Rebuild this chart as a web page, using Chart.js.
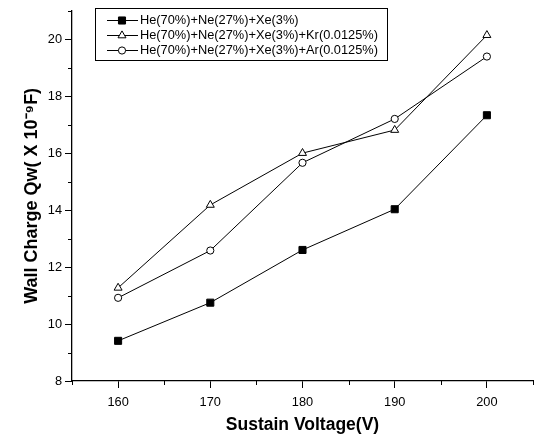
<!DOCTYPE html>
<html>
<head>
<meta charset="utf-8">
<script src="https://cdn.jsdelivr.net/npm/chart.js"></script>
<style>
html,body{margin:0;padding:0;background:#fff;}
#wrap{width:539px;height:439px;}
</style>
</head>
<body>
<div id="wrap"><canvas id="c" width="539" height="439"></canvas></div>
<script>
// ---- data ----
const voltages = [160, 170, 180, 190, 200];
const seriesXe = [9.41, 10.75, 12.6, 14.03, 17.33];
const seriesKr = [11.27, 14.18, 16.0, 16.81, 20.14];
const seriesAr = [10.92, 12.58, 15.66, 17.2, 19.39];
const labelXe = 'He(70%)+Ne(27%)+Xe(3%)';
const labelKr = 'He(70%)+Ne(27%)+Xe(3%)+Kr(0.0125%)';
const labelAr = 'He(70%)+Ne(27%)+Xe(3%)+Ar(0.0125%)';
const xTicks = [160, 170, 180, 190, 200];
const xMinorTicks = [155, 165, 175, 185, 195, 205];
const yTicks = [8, 10, 12, 14, 16, 18, 20];
const yMinorTicks = [9, 11, 13, 15, 17, 19, 21];
const xTitle = 'Sustain Voltage(V)';
const yTitle = 'Wall Charge Qw( X 10\u207B\u2079F)';

const FONT = '"Liberation Sans", Arial, Helvetica, sans-serif';
Chart.defaults.font.family = FONT;
Chart.defaults.color = '#000';

function pts(vals){ return voltages.map((v,i)=>({x:v, y:vals[i]})); }

const minorTicks = {
  id:'minorTicks',
  afterDraw(chart){
    const ctx = chart.ctx, xs = chart.scales.x, ys = chart.scales.y;
    ctx.save();
    ctx.strokeStyle = '#000'; ctx.lineWidth = 1;
    xMinorTicks.forEach(v=>{
      const px = Math.round(xs.getPixelForValue(v)) + 0.5;
      ctx.beginPath(); ctx.moveTo(px, xs.top); ctx.lineTo(px, xs.top + 4); ctx.stroke();
    });
    yMinorTicks.forEach(v=>{
      const py = Math.round(ys.getPixelForValue(v)) + 0.5;
      ctx.beginPath(); ctx.moveTo(ys.right, py); ctx.lineTo(ys.right - 4, py); ctx.stroke();
    });
    ctx.restore();
  }
};

const legendBox = {
  id:'legendBox',
  afterDraw(chart){
    const ctx = chart.ctx;
    ctx.save();
    ctx.strokeStyle = '#000'; ctx.lineWidth = 1;
    ctx.strokeRect(95.5, 8.5, 292, 52);
    ctx.font = '12.8px ' + FONT;
    ctx.textBaseline = 'middle';
    ctx.fillStyle = '#000';
    chart.data.datasets.forEach((ds,i)=>{
      const y = 20 + i*15 + 0.5;
      ctx.strokeStyle = '#000'; ctx.lineWidth = 1;
      ctx.beginPath(); ctx.moveTo(107, y); ctx.lineTo(138, y); ctx.stroke();
      ctx.fillStyle = ds.pointBackgroundColor;
      Chart.helpers.drawPoint(ctx, {pointStyle: ds.pointStyle, radius: ds.pointRadius, borderWidth: 1, rotation: 0}, 122, y);
      ctx.fillStyle = '#000';
      ctx.fillText(ds.label, 140, y);
    });
    ctx.restore();
  }
};

const common = {borderColor:'#000', borderWidth:1, pointBorderColor:'#000', pointBorderWidth:1, tension:0, fill:false};

new Chart(document.getElementById('c'), {
  type:'line',
  data:{
    datasets:[
      Object.assign({label:labelXe, data:pts(seriesXe), pointStyle:'rect', pointRadius:5, pointBackgroundColor:'#000'}, common),
      Object.assign({label:labelKr, data:pts(seriesKr), pointStyle:'triangle', pointRadius:4.6, pointBackgroundColor:'#fff'}, common),
      Object.assign({label:labelAr, data:pts(seriesAr), pointStyle:'circle', pointRadius:3.6, pointBackgroundColor:'#fff'}, common)
    ]
  },
  options:{
    responsive:false,
    animation:false,
    layout:{padding:{top:6, right:4, bottom:0, left:0}},
    plugins:{legend:{display:false}, tooltip:{enabled:false}},
    scales:{
      x:{
        type:'linear', min:155, max:205,
        afterBuildTicks(s){ s.ticks = xTicks.map(v=>({value:v})); },
        afterFit(s){ s.height = 58; },
        ticks:{font:{size:12.8}, padding:7, maxRotation:0, autoSkip:false, callback:v=>String(v)},
        grid:{drawOnChartArea:false, tickLength:7, tickColor:'#000', tickWidth:1},
        border:{display:true, color:'#000', width:1.3},
        title:{display:true, text:xTitle, font:{size:17.5, weight:'bold'}, padding:{top:0,bottom:3}}
      },
      y:{
        type:'linear', min:8, max:21,
        afterBuildTicks(s){ s.ticks = yTicks.map(v=>({value:v})); },
        afterFit(s){ s.width = 72; },
        ticks:{font:{size:12.8}, padding:3, autoSkip:false, callback:v=>String(v)},
        grid:{drawOnChartArea:false, tickLength:7, tickColor:'#000', tickWidth:1},
        border:{display:true, color:'#000', width:1.3},
        title:{display:true, text:yTitle, font:{size:18, weight:'bold'}, padding:{top:21,bottom:0}}
      }
    }
  },
  plugins:[minorTicks, legendBox]
});
</script>
</body>
</html>
